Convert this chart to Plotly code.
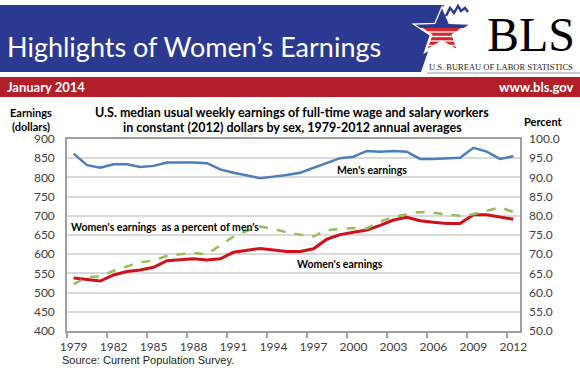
import math
import plotly.graph_objects as go

# ---------------- data ----------------
years = list(range(1979, 2013))
men_earnings = [862, 832, 825, 834, 834, 827, 830, 839, 839, 839, 837, 821,
                812, 805, 798, 802, 806, 812, 825, 839, 850, 854, 869, 867,
                869, 867, 848, 848, 850, 851, 877, 867, 848, 855]
women_earnings = [538, 534, 530, 546, 555, 559, 566, 583, 586, 588, 585, 588,
                  605, 610, 615, 611, 607, 607, 614, 639, 651, 657, 663, 675,
                  689, 696, 687, 683, 680, 680, 703, 703, 697, 691]
women_pct_of_men = [62.2, 64.0, 64.2, 65.7, 66.8, 67.9, 68.3, 69.6, 70.0, 70.3,
                    70.0, 72.2, 74.6, 76.1, 77.2, 76.6, 75.7, 75.1, 74.6, 76.3,
                    76.6, 76.8, 76.7, 78.5, 79.7, 80.4, 81.0, 80.8, 80.3, 80.0,
                    80.4, 81.3, 82.2, 81.0]
x_tick_years = list(range(1979, 2013, 3))

# ---------------- layout geometry ----------------
W, H = 580, 387
L, R, T, B = 67, 520, 139, 331
PW, PH = R - L, B - T


def px(x):
    return (x - L) / PW


def py(y):
    return (B - y) / PH


FONT = "Lato"
BLUE_BANNER = "#2b3990"
RED_BAR = "#b31f28"

fig = go.Figure()
fig.add_trace(go.Scatter(x=years, y=men_earnings, mode="lines", name="Men's earnings",
                         line=dict(color="#4a7ebb", width=2.5), yaxis="y"))
fig.add_trace(go.Scatter(x=years, y=women_earnings, mode="lines", name="Women's earnings",
                         line=dict(color="#d0101a", width=3), yaxis="y"))
fig.add_trace(go.Scatter(x=years, y=women_pct_of_men, mode="lines",
                         name="Women's earnings as a percent of men's",
                         line=dict(color="#9bbb59", width=2.5, dash="dash"), yaxis="y2"))

shapes = []
# blue banner
bx = [0, 444, 421, 0]
by = [5, 5, 72, 72]
path = "M " + " L ".join(f"{px(a)},{py(b)}" for a, b in zip(bx, by)) + " Z"
shapes.append(dict(type="path", xref="paper", yref="paper", path=path,
                   fillcolor=BLUE_BANNER, line=dict(width=0), layer="above"))
# red bar
shapes.append(dict(type="rect", xref="paper", yref="paper", x0=px(0), x1=px(580),
                   y0=py(77), y1=py(97), fillcolor=RED_BAR, line=dict(width=0), layer="above"))
# thin line under logo
shapes.append(dict(type="line", xref="paper", yref="paper", x0=px(427), x1=px(580),
                   y0=py(73), y1=py(73), line=dict(color="#9a9a9a", width=1), layer="above"))

# star
cx, cy, Ro, Ri, sy = 442, 32, 28, 11.5, 0.85
star = []
for k in range(10):
    ang = math.radians(-90 + 36 * k)
    r = Ro if k % 2 == 0 else Ri
    star.append((cx + r * math.cos(ang), cy + r * math.sin(ang) * sy))


def poly_path(pts):
    return "M " + " L ".join(f"{px(a)},{py(b)}" for a, b in pts) + " Z"


shapes.append(dict(type="path", xref="paper", yref="paper", path=poly_path(star),
                   fillcolor="#d42a2f", line=dict(color="white", width=2.5), layer="above"))


def clip_above(pts, ycut):
    out = []
    n = len(pts)
    for i in range(n):
        a, b = pts[i], pts[(i + 1) % n]
        ina, inb = a[1] <= ycut, b[1] <= ycut
        if ina:
            out.append(a)
        if ina != inb:
            t = (ycut - a[1]) / (b[1] - a[1])
            out.append((a[0] + t * (b[0] - a[0]), ycut))
    return out


top = clip_above(star, 28)
shapes.append(dict(type="path", xref="paper", yref="paper", path=poly_path(top),
                   fillcolor=BLUE_BANNER, line=dict(width=0), layer="above"))

# white stripes inside the red part of the star
for ys in [32, 36.5, 41, 45.5, 50]:
    xs = []
    n = len(star)
    for i in range(n):
        a, b = star[i], star[(i + 1) % n]
        if (a[1] - ys) * (b[1] - ys) < 0:
            t = (ys - a[1]) / (b[1] - a[1])
            xs.append(a[0] + t * (b[0] - a[0]))
    xs.sort()
    for j in range(0, len(xs) - 1, 2):
        shapes.append(dict(type="line", xref="paper", yref="paper",
                           x0=px(xs[j] + 1), x1=px(xs[j + 1] - 1), y0=py(ys), y1=py(ys),
                           line=dict(color="white", width=1.3), layer="above"))

# jagged line at top of star
jag = [(446, 16), (450, 8), (454, 13), (458, 6), (461, 11), (465, 8), (468, 12)]
shapes.append(dict(type="path", xref="paper", yref="paper",
                   path="M " + " L ".join(f"{px(a)},{py(b)}" for a, b in jag),
                   line=dict(color=BLUE_BANNER, width=2.5), layer="above"))

annotations = [
    dict(text="Highlights of Women’s Earnings", x=px(5), y=py(46), xanchor="left", yanchor="middle",
         font=dict(family=FONT, size=27, color="white")),
    dict(text="BLS", x=px(577), y=py(35), xanchor="right", yanchor="middle",
         font=dict(family="Liberation Serif", size=48, color="black")),
    dict(text="U.S. BUREAU OF LABOR STATISTICS", x=px(575), y=py(67), xanchor="right", yanchor="middle",
         font=dict(family="Liberation Serif", size=8.5, color="#222222")),
    dict(text="<b>January 2014</b>", x=px(5), y=py(87), xanchor="left", yanchor="middle",
         font=dict(family=FONT, size=13, color="white")),
    dict(text="<b>www.bls.gov</b>", x=px(576), y=py(87), xanchor="right", yanchor="middle",
         font=dict(family=FONT, size=13, color="white")),
    dict(text="<b>U.S. median usual weekly earnings of full-time wage and salary workers</b>",
         x=px(292), y=py(113), xanchor="center", yanchor="middle",
         font=dict(family=FONT, size=12.5, color="black")),
    dict(text="<b>in constant (2012) dollars by sex, 1979-2012 annual averages</b>",
         x=px(292), y=py(128), xanchor="center", yanchor="middle",
         font=dict(family=FONT, size=12.5, color="black")),
    dict(text="<b>Earnings</b>", x=px(31), y=py(112), xanchor="center", yanchor="middle",
         font=dict(family=FONT, size=11, color="black")),
    dict(text="<b>(dollars)</b>", x=px(31), y=py(126), xanchor="center", yanchor="middle",
         font=dict(family=FONT, size=11, color="black")),
    dict(text="<b>Percent</b>", x=px(543), y=py(122), xanchor="center", yanchor="middle",
         font=dict(family=FONT, size=11, color="black")),
    dict(text="<b>Men's earnings</b>", x=px(372), y=py(170), xanchor="center", yanchor="middle",
         font=dict(family=FONT, size=10.5, color="black")),
    dict(text="<b>Women's earnings  as a percent of men's</b>", x=px(69), y=py(227), xanchor="left",
         yanchor="middle", font=dict(family=FONT, size=10.5, color="black")),
    dict(text="<b>Women's earnings</b>", x=px(295), y=py(264), xanchor="left", yanchor="middle",
         font=dict(family=FONT, size=10.5, color="black")),
    dict(text="Source: Current Population Survey.", x=px(60), y=py(360), xanchor="left", yanchor="middle",
         font=dict(family="Liberation Sans", size=11, color="#222222")),
]
for a in annotations:
    a.update(xref="paper", yref="paper", showarrow=False)

tickfont = dict(family=FONT, size=12, color="#404040")
fig.update_layout(
    width=W, height=H,
    margin=dict(l=L, r=W - R, t=T, b=H - B, autoexpand=False),
    paper_bgcolor="white", plot_bgcolor="white",
    showlegend=False,
    shapes=shapes, annotations=annotations,
    xaxis=dict(range=[1978.5, 2012.5], tickmode="array", tickvals=x_tick_years,
               ticktext=[str(v) for v in x_tick_years], ticks="", showgrid=False,
               showline=True, linecolor="#a0a0a0", linewidth=1.5, mirror=True,
               tickfont=tickfont, ticklabelstandoff=4, automargin=False,
               minor=dict(ticks="outside", tick0=1978.5, dtick=3, ticklen=5,
                          tickcolor="#a0a0a0", tickwidth=1.5, showgrid=False),
               zeroline=False),
    yaxis=dict(range=[400, 900], dtick=50, showgrid=True, gridcolor="#d9d9d9", gridwidth=1.8,
               showline=True, linecolor="#a0a0a0", linewidth=1.5, mirror=True, automargin=False,
               ticks="", tickfont=tickfont, ticklabelstandoff=8, zeroline=False),
    yaxis2=dict(range=[50, 100], dtick=5, tickformat=".1f", overlaying="y", side="right",
                showgrid=False, showline=False, ticks="", tickfont=tickfont, automargin=False,
                ticklabelstandoff=8, zeroline=False),
)

fig.write_html("out.html", config={"displayModeBar": False},
               post_script="document.body.style.margin='0';document.body.style.overflow='hidden';")
